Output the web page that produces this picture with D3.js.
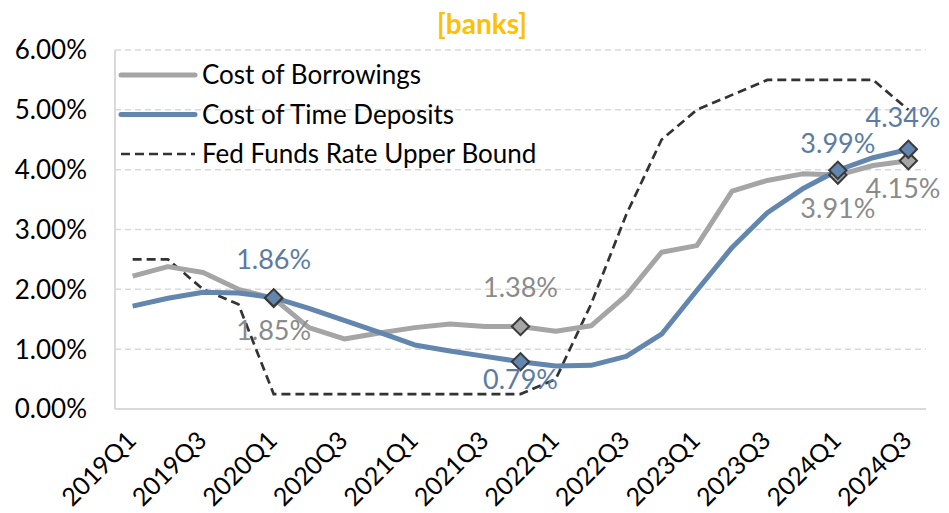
<!DOCTYPE html>
<html>
<head>
<meta charset="utf-8">
<script src="https://cdn.jsdelivr.net/npm/d3@7"></script>
<style>
  body { margin: 0; background: #fff; }
  svg text { font-family: Lato, "Open Sans", sans-serif; }
</style>
</head>
<body>
<div id="chart"></div>
<script>
// quarters on the x axis
var quarters = ["2019Q1","2019Q2","2019Q3","2019Q4","2020Q1","2020Q2","2020Q3","2020Q4",
  "2021Q1","2021Q2","2021Q3","2021Q4","2022Q1","2022Q2","2022Q3","2022Q4",
  "2023Q1","2023Q2","2023Q3","2023Q4","2024Q1","2024Q2","2024Q3"];
// series values in percent
var costBorrowings = [2.22,2.38,2.28,2.00,1.85,1.36,1.17,1.27,1.36,1.42,1.38,1.38,1.30,1.39,1.90,2.62,
  2.73,3.64,3.82,3.93,3.91,4.07,4.15];
var costTimeDeposits = [1.72,1.85,1.95,1.94,1.86,1.68,1.48,1.28,1.07,0.97,0.88,0.79,0.72,0.73,0.88,1.25,
  1.98,2.70,3.28,3.68,3.99,4.20,4.34];
var fedFunds = [2.50,2.50,2.00,1.75,0.25,0.25,0.25,0.25,0.25,0.25,0.25,0.25,0.50,1.75,3.25,4.50,
  5.00,5.25,5.50,5.50,5.50,5.50,5.00];
var yTicks = [0,1,2,3,4,5,6];
var xTickLabels = quarters.filter(function(d, i) { return i % 2 === 0; });
// which points get a diamond + value label
var labelled = [4, 11, 20, 22];

// label baseline offsets from the marker (px), per labelled point
var depositsLabelDy = [-29, 27, -17, -22];
var borrowingsLabelDy = [42, -29, 43, 37];

var width = 949, height = 513;
var margin = {top: 50, right: 23, bottom: 104, left: 115};

var svg = d3.select("#chart").append("svg")
  .attr("width", width)
  .attr("height", height);

var x = d3.scaleBand()
  .domain(quarters)
  .range([margin.left, width - margin.right]);
var y = d3.scaleLinear()
  .domain([0, 6])
  .range([height - margin.bottom, margin.top]);
var cx = function(d, i) { return x(quarters[i]) + x.bandwidth() / 2; };

// gridlines
svg.append("g")
  .selectAll("line")
  .data(yTicks.filter(function(d) { return d > 0; }))
  .enter().append("line")
    .attr("x1", margin.left)
    .attr("x2", width - margin.right)
    .attr("y1", function(d) { return y(d); })
    .attr("y2", function(d) { return y(d); })
    .style("stroke", "#d9d9d9")
    .style("stroke-width", 1.5)
    .style("stroke-dasharray", "6,4");

// axis lines
svg.append("line")
  .attr("x1", margin.left).attr("x2", width - margin.right)
  .attr("y1", y(0)).attr("y2", y(0))
  .style("stroke", "#d9d9d9").style("stroke-width", 2);
svg.append("line")
  .attr("x1", margin.left).attr("x2", margin.left)
  .attr("y1", y(0)).attr("y2", y(6))
  .style("stroke", "#d9d9d9").style("stroke-width", 2);

// y labels
svg.append("g")
  .selectAll("text")
  .data(yTicks)
  .enter().append("text")
    .attr("x", 87)
    .attr("y", function(d) { return y(d); })
    .attr("dy", "0.36em")
    .attr("text-anchor", "end")
    .attr("font-size", "26px")
    .attr("fill", "#000")
    .text(function(d) { return d3.format(".2f")(d) + "%"; });

// x labels, rotated
svg.append("g")
  .selectAll("text")
  .data(xTickLabels)
  .enter().append("text")
    .attr("transform", function(d) {
      return "translate(" + (x(d) + x.bandwidth() / 2 + 5) + "," + (y(0) + 33) + ") rotate(-45)";
    })
    .attr("text-anchor", "end")
    .attr("font-size", "25px")
    .attr("fill", "#000")
    .text(function(d) { return d; });

var line = d3.line()
  .x(cx)
  .y(function(d) { return y(d); });

svg.append("path")
  .datum(fedFunds)
  .attr("d", line)
  .style("fill", "none")
  .style("stroke", "#333")
  .style("stroke-width", 2.7)
  .style("stroke-dasharray", "9,5");

svg.append("path")
  .datum(costBorrowings)
  .attr("d", line)
  .style("fill", "none")
  .style("stroke", "#a5a5a5")
  .style("stroke-width", 5)
  .style("stroke-linejoin", "round");

svg.append("path")
  .datum(costTimeDeposits)
  .attr("d", line)
  .style("fill", "none")
  .style("stroke", "#6286ad")
  .style("stroke-width", 5)
  .style("stroke-linejoin", "round");

function markers(values, fill) {
  svg.append("g")
    .selectAll("path")
    .data(labelled)
    .enter().append("path")
      .attr("transform", function(i) {
        return "translate(" + cx(null, i) + "," + y(values[i]) + ") rotate(45)";
      })
      .attr("d", d3.symbol().type(d3.symbolSquare).size(150))
      .style("fill", fill)
      .style("stroke", "#3a3a3a")
      .style("stroke-width", 2);
}
markers(costBorrowings, "#a5a5a5");
markers(costTimeDeposits, "#6286ad");

// value labels
function valueLabels(values, color, offsets) {
  svg.append("g")
    .selectAll("text")
    .data(labelled)
    .enter().append("text")
      .attr("x", function(i) { return Math.min(cx(null, i), 903); })
      .attr("y", function(i, k) { return y(values[i]) + offsets[k]; })
      .attr("text-anchor", "middle")
      .attr("font-size", "27px")
      .attr("fill", color)
      .text(function(i) { return values[i].toFixed(2) + "%"; });
}
valueLabels(costTimeDeposits, "#5b7ba4", depositsLabelDy);
valueLabels(costBorrowings, "#8a8a8a", borrowingsLabelDy);

// legend
var legendItems = [
  {name: "Cost of Borrowings", color: "#a5a5a5", w: 5, dash: null},
  {name: "Cost of Time Deposits", color: "#6286ad", w: 5, dash: null},
  {name: "Fed Funds Rate Upper Bound", color: "#333", w: 2.7, dash: "9,5"}
];
var legend = svg.append("g")
  .selectAll("g")
  .data(legendItems)
  .enter().append("g")
    .attr("transform", function(d, i) { return "translate(121," + (75 + i * 39.5) + ")"; });
legend.append("line")
  .attr("x1", 0).attr("x2", 74)
  .style("stroke", function(d) { return d.color; })
  .style("stroke-width", function(d) { return d.w; })
  .style("stroke-linecap", function(d) { return d.dash ? "butt" : "round"; })
  .style("stroke-dasharray", function(d) { return d.dash; });
legend.append("text")
  .attr("x", 81)
  .attr("dy", "0.36em")
  .attr("font-size", "26px")
  .attr("fill", "#000")
  .text(function(d) { return d.name; });

// title
svg.append("text")
  .attr("x", 482)
  .attr("y", 34)
  .attr("text-anchor", "middle")
  .attr("font-size", "28px")
  .attr("font-weight", "bold")
  .attr("fill", "#ffc000")
  .text("[banks]");
</script>
</body>
</html>
